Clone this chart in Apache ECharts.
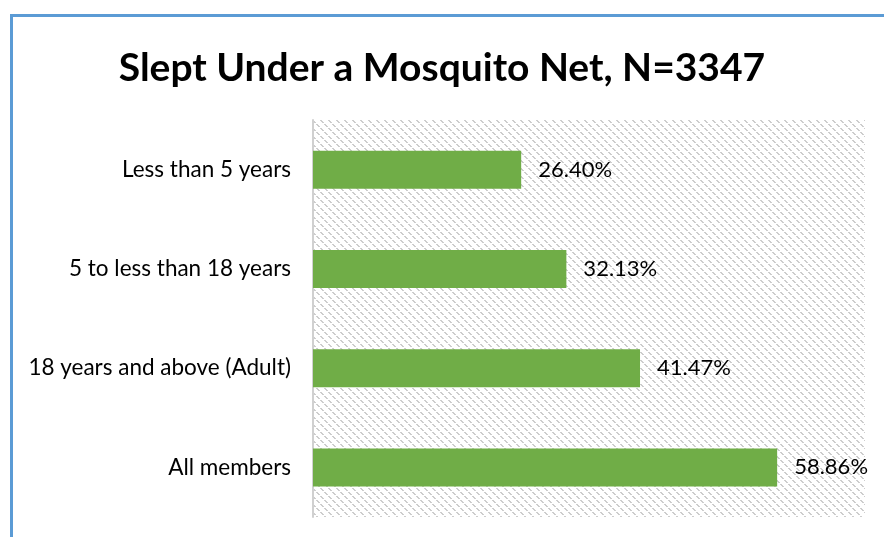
<!DOCTYPE html>
<html><head><meta charset="utf-8">
<script src="https://cdn.jsdelivr.net/npm/echarts@6/dist/echarts.min.js"></script>
<style>html,body{margin:0;padding:0;background:#fff}#c{width:884px;height:537px}</style>
</head><body><div id="c"></div>
<script>
const categories = ['Less than 5 years', '5 to less than 18 years', '18 years and above (Adult)', 'All members'];
const values = [26.40, 32.13, 41.47, 58.86];
const titleText = 'Slept Under a Mosquito Net, N=3347';

const tile = document.createElement('canvas');
tile.width = 8; tile.height = 8;
const tc = tile.getContext('2d');
tc.fillStyle = '#cdcdcd';
for (let i = 0; i < 8; i++) {
  if (i % 4 === 3) continue;
  tc.fillRect(i, i, 1, 1);
  tc.fillRect((i + 1) % 8, i, 1, 1);
}

const chart = echarts.init(document.getElementById('c'), null, {renderer: 'canvas'});
chart.setOption({
  animation: false,
  title: {
    text: titleText, left: 'center', top: 44,
    textStyle: {fontFamily: 'Lato', fontWeight: 'bold', fontSize: 39, color: '#000'}
  },
  grid: {
    left: 313, right: 19, top: 120, bottom: 20, containLabel: false,
    show: true, borderWidth: 0,
    backgroundColor: {image: tile, repeat: 'repeat'}
  },
  xAxis: {
    type: 'value', min: 0, max: 70,
    show: false
  },
  yAxis: {
    type: 'category', data: categories, inverse: true,
    axisLine: {show: true, lineStyle: {color: '#d0d0d0', width: 2}},
    axisTick: {show: false},
    axisLabel: {margin: 22, fontFamily: 'Lato', fontSize: 22.5, color: '#000'}
  },
  series: [{
    type: 'bar', data: values, barWidth: 38,
    itemStyle: {color: '#70ad47'},
    label: {show: true, position: 'right', distance: 17,
      formatter: p => p.value.toFixed(2) + '%',
      fontFamily: 'Lato', fontSize: 22, color: '#000'}
  }],
  graphic: [
    {type: 'line', shape: {x1: 11.5, y1: 15.5, x2: 884, y2: 15.5}, style: {stroke: '#5b9bd5', lineWidth: 3}},
    {type: 'line', shape: {x1: 11.5, y1: 14, x2: 11.5, y2: 537}, style: {stroke: '#5b9bd5', lineWidth: 3}}
  ]
});
</script></body></html>
